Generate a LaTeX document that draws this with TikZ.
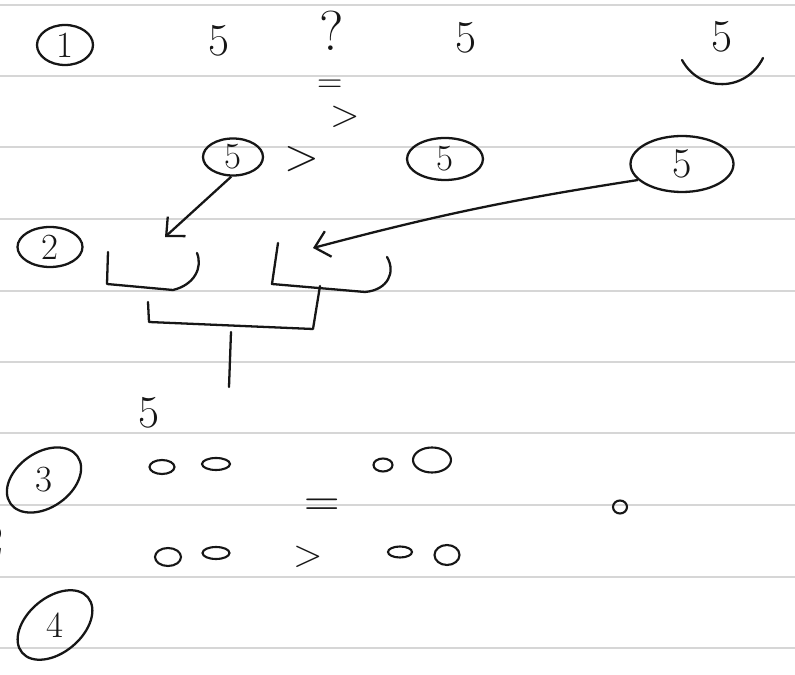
\documentclass[tikz,border=0pt]{standalone}
\usepackage{tikz}
\usetikzlibrary{arrows.meta, shapes.geometric, positioning}
\definecolor{ruleline}{RGB}{214, 214, 214}
\definecolor{penink}{RGB}{22, 22, 22}

\begin{document}
\begin{tikzpicture}[x=0.02cm, y=-0.02cm,
	stroke/.style={draw=penink, line width=1.3pt, line cap=round, line join=round},
	ring/.style={ellipse, draw=penink, line width=1.3pt, inner sep=0pt,
		text=penink, font=\fontsize{21}{23}\selectfont},
	digit/.style={text=penink, inner sep=0pt, font=\fontsize{26}{28}\selectfont},
	blob/.style={ellipse, draw=penink, line width=1.2pt, inner sep=0pt},
	arr/.style={-{Straight Barb[length=8pt, width=15pt]}, draw=penink, line width=1.3pt}
	]
	\useasboundingbox[fill=white] (0,0) rectangle (795,675);
	% ruled paper
	\foreach \y in {5, 76, 147, 219, 291, 362, 433, 505, 577, 648}
		\draw[ruleline, line width=1.2pt] (0,\y) -- (795,\y);
	
	% row 1
	\node[ring, minimum width=1.12cm, minimum height=0.8cm] (n1) at (65,45) {1};
	\node[digit] (fiveA) at (219,41) {5};
	\node[digit, font=\fontsize{32}{34}\selectfont] (query) at (332,31) {?};
	\node[digit, font=\fontsize{20}{22}\selectfont] (eqtop) at (330,86) {=};
	\node[digit, font=\fontsize{22}{24}\selectfont] (gttop) at (345,117) {>};
	\node[digit] (fiveB) at (466,38) {5};
	\node[digit] (fiveC) at (722,37) {5};
	\coordinate (smileL) at (682,60);
	\coordinate (smileR) at (763,58);
	\draw[stroke] (smileL) .. controls (700,93) and (746,92) .. (smileR);
	
	% row 2
	\node[ring, minimum width=1.2cm, minimum height=0.74cm] (ring5a) at (233,157) {5};
	\node[digit] (gtmid) at (302,159) {>};
	\node[ring, minimum width=1.52cm, minimum height=0.84cm] (ring5b) at (445,159) {5};
	\node[ring, minimum width=2.06cm, minimum height=1.12cm,
		font=\fontsize{24}{26}\selectfont] (ring5c) at (682,164) {5};
	\node[ring, minimum width=1.3cm, minimum height=0.8cm] (n2) at (50,247) {2};
	\coordinate (tipA) at (165,237);
	\coordinate (tipB) at (313,248);
	\draw[arr] (ring5a.265) -- (tipA);
	\draw[arr] (ring5c.200) to[bend right=3] (tipB);
	
	% brackets
	\draw[stroke] (108,252) -- (107,284) -- (173,290)
		.. controls (194,285) and (203,268) .. (197,253);
	\draw[stroke] (278,243) -- (272,284) -- (365,292)
		.. controls (388,290) and (396,272) .. (387,257);
	\coordinate (footB) at (320,286);
	\coordinate (stemtop) at (231,332);
	\coordinate (stembot) at (229,387);
	\draw[stroke] (148,302) -- (149,322) -- (313,329) -- (footB);
	\draw[stroke] (stemtop) -- (stembot);
	
	% row 3
	\node[digit] (fiveD) at (149,413) {5};
	\node[digit, font=\fontsize{21}{23}\selectfont] (n3) at (44,480) {3};
	\draw[stroke, rotate around={35:(n3.center)}] (n3.center) ellipse (0.82cm and 0.55cm);
	\node[blob, minimum width=0.5cm, minimum height=0.28cm] (oA) at (162,467) {};
	\node[blob, minimum width=0.56cm, minimum height=0.24cm] (oB) at (216,464) {};
	\node[blob, minimum width=0.38cm, minimum height=0.26cm] (oC) at (383,465) {};
	\node[blob, minimum width=0.76cm, minimum height=0.5cm] (oD) at (432,460) {};
	\node[digit, font=\fontsize{28}{30}\selectfont] (eqlow) at (322,508) {=};
	\node[blob, minimum width=0.28cm, minimum height=0.26cm] (oE) at (620,507) {};
	\node[digit] (edgetwo) at (-7,540) {2};
	\node[blob, minimum width=0.52cm, minimum height=0.36cm] (oF) at (168,557) {};
	\node[blob, minimum width=0.54cm, minimum height=0.24cm] (oG) at (216,553) {};
	\node[digit, font=\fontsize{22}{24}\selectfont] (gtlow) at (308,557) {>};
	\node[blob, minimum width=0.48cm, minimum height=0.22cm] (oH) at (400,552) {};
	\node[blob, minimum width=0.5cm, minimum height=0.4cm] (oI) at (447,555) {};
	
	% row 4
	\node[digit, font=\fontsize{21}{23}\selectfont] (n4) at (55,625) {4};
	\draw[stroke, rotate around={40:(n4.center)}] (n4.center) ellipse (0.86cm and 0.55cm);
\end{tikzpicture}
\end{document}
